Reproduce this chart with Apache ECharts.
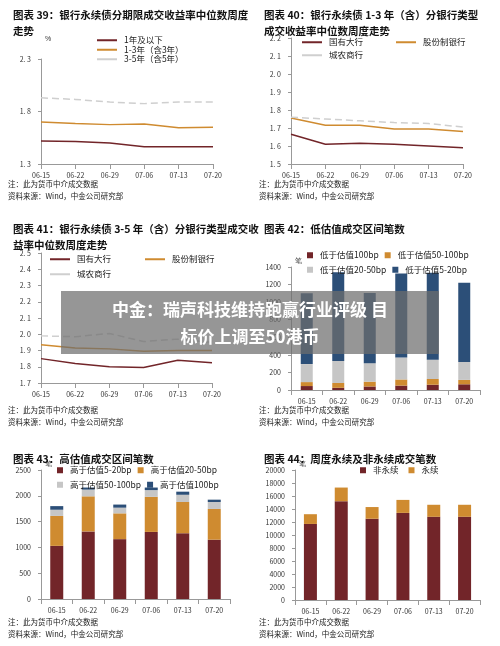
<!DOCTYPE html>
<html lang="zh-CN">
<head>
<meta charset="UTF-8">
<title>银行永续债成交</title>
<script src="https://cdn.jsdelivr.net/npm/echarts@6/dist/echarts.min.js"></script>
<style>
  html, body { margin: 0; padding: 0; background: #fff; }
  #chart { width: 500px; height: 646px; }
</style>
</head>
<body>
<div id="chart"></div>
<script>
// 数据
const weeks = ['06-15', '06-22', '06-29', '07-06', '07-13', '07-20'];
// 图表39
const term1 = [1.52, 1.515, 1.50, 1.465, 1.465, 1.465];
const term13 = [1.70, 1.685, 1.675, 1.68, 1.645, 1.65];
const term35 = [1.93, 1.915, 1.89, 1.875, 1.89, 1.89];
// 图表40
const big13 = [1.665, 1.61, 1.615, 1.61, 1.60, 1.59];
const joint13 = [1.755, 1.715, 1.715, 1.695, 1.695, 1.68];
const city13 = [1.76, 1.75, 1.74, 1.73, 1.725, 1.705];
// 图表41
const big35 = [1.85, 1.82, 1.80, 1.795, 1.84, 1.825];
const joint35 = [1.935, 1.915, 1.91, 1.895, 1.90, 1.90];
const city35 = [1.99, 1.985, 2.005, 1.955, 1.97, 1.95];
// 图表42 低估值
const low100 = [45, 25, 40, 50, 60, 65];
const low50 = [45, 55, 55, 70, 65, 50];
const low20 = [205, 250, 210, 250, 220, 205];
const low5 = [805, 1010, 800, 955, 990, 900];
// 图表43 高估值
const high5 = [1030, 1310, 1160, 1300, 1275, 1150];
const high20 = [580, 680, 500, 680, 605, 595];
const high50 = [120, 130, 110, 130, 140, 135];
const high100 = [70, 40, 60, 50, 60, 45];
// 图表44
const nonPerp = [11700, 15200, 12500, 13400, 12800, 12800];
const perp = [1500, 2100, 1800, 2000, 1850, 1850];

const RED = '#722529', ORANGE = '#cf8b30', GRAY = '#c6c6c6', NAVY = '#2c4f78';
const FONT = '"Noto Sans CJK SC", sans-serif';

const chart = echarts.init(document.getElementById('chart'));

const grids = [
  {left: 41, right: 287, top: 59, bottom: 482},
  {left: 291, right: 37, top: 38, bottom: 482},
  {left: 41, right: 288, top: 253, bottom: 263},
  {left: 291, right: 20, top: 267, bottom: 256},
  {left: 41, right: 270, top: 470, bottom: 47},
  {left: 295, right: 20, top: 470, bottom: 46}
];

const axisLine = {show: true, lineStyle: {color: '#999', width: 1}};
const xAxes = grids.map((g, i) => ({
  type: 'category', gridIndex: i, data: weeks, boundaryGap: i >= 3,
  axisLine: axisLine, axisTick: {show: true, alignWithLabel: i < 3, lineStyle: {color: '#999'}},
  axisLabel: {fontSize: 7, color: '#333', fontFamily: FONT, interval: 0}
}));
const yCfg = [
  {min: 1.3, max: 2.3, interval: 0.5, name: '%', dec: 1},
  {min: 1.5, max: 2.2, interval: 0.1, name: '%', dec: 1},
  {min: 1.7, max: 2.5, interval: 0.1, name: '%', dec: 1},
  {min: 0, max: 1400, interval: 200, name: '笔', dec: 0},
  {min: 0, max: 2500, interval: 500, name: '笔', dec: 0},
  {min: 0, max: 20000, interval: 2000, name: '笔', dec: 0}
];
const yAxes = yCfg.map((c, i) => ({
  type: 'value', gridIndex: i, min: c.min, max: c.max, interval: c.interval,
  name: c.name, nameGap: i === 0 ? 16 : 2,
  nameTextStyle: {fontSize: 7, color: '#333', align: 'left', padding: [0, 0, 0, 4]},
  axisLine: axisLine, axisTick: {show: true, length: 3, lineStyle: {color: '#999'}},
  splitLine: {show: false},
  axisLabel: {fontSize: 7, color: '#333', fontFamily: FONT, margin: 10,
    formatter: v => c.dec ? v.toFixed(1).replace('.', '. ') : String(v)}
}));

function line(name, data, idx, color, dashed) {
  return {
    name: name, type: 'line', xAxisIndex: idx, yAxisIndex: idx, data: data,
    symbol: 'none', lineStyle: {color: color, width: 1.5, type: dashed ? [7, 4] : 'solid'},
    itemStyle: {color: color}
  };
}
function bar(name, data, idx, color, stack) {
  return {
    name: name, type: 'bar', stack: stack, xAxisIndex: idx, yAxisIndex: idx, data: data,
    barWidth: idx === 3 ? 12 : 13, itemStyle: {color: color}
  };
}

const series = [
  line('1年及以下', term1, 0, RED),
  line('1-3年（含3年）', term13, 0, ORANGE),
  line('3-5年（含5年）', term35, 0, '#cfcfcf', true),
  line('国有大行', big13, 1, RED),
  line('股份制银行', joint13, 1, ORANGE),
  line('城农商行', city13, 1, '#cfcfcf', true),
  line('国有大行', big35, 2, RED),
  line('股份制银行', joint35, 2, ORANGE),
  line('城农商行', city35, 2, '#cfcfcf', true),
  bar('低于估值100bp', low100, 3, RED, 'low'),
  bar('低于估值50-100bp', low50, 3, ORANGE, 'low'),
  bar('低于估值20-50bp', low20, 3, GRAY, 'low'),
  bar('低于估值5-20bp', low5, 3, NAVY, 'low'),
  bar('高于估值5-20bp', high5, 4, RED, 'high'),
  bar('高于估值20-50bp', high20, 4, ORANGE, 'high'),
  bar('高于估值50-100bp', high50, 4, GRAY, 'high'),
  bar('高于估值100bp', high100, 4, NAVY, 'high'),
  bar('非永续', nonPerp, 5, RED, 'perp'),
  bar('永续', perp, 5, ORANGE, 'perp')
];

const lineLeg = {itemWidth: 20, itemHeight: 6, icon: 'path://M0,0H20V2H0Z'};
const sqLeg = {itemWidth: 6, itemHeight: 6, icon: 'rect'};
function leg(o, base) {
  return Object.assign({selectedMode: false, itemGap: 1, padding: 0,
    textStyle: {fontSize: 8.5, color: '#222', fontFamily: FONT, padding: [0, 0, 0, 2]}}, base, o);
}
const legends = [
  leg({left: 97, top: 36, orient: 'vertical', data: ['1年及以下', '1-3年（含3年）', '3-5年（含5年）']}, lineLeg),
  leg({left: 302, top: 38, data: ['国有大行']}, lineLeg),
  leg({left: 396, top: 38, data: ['股份制银行']}, lineLeg),
  leg({left: 302, top: 51, data: ['城农商行']}, lineLeg),
  leg({left: 50, top: 255, data: ['国有大行']}, lineLeg),
  leg({left: 145, top: 255, data: ['股份制银行']}, lineLeg),
  leg({left: 50, top: 270, data: ['城农商行']}, lineLeg),
  leg({left: 307, top: 251, width: 190, itemGap: 6, data: ['低于估值100bp', '低于估值50-100bp', '低于估值20-50bp', '低于估值5-20bp']}, sqLeg),
  leg({left: 57, top: 466, width: 190, itemGap: 6, data: ['高于估值5-20bp', '高于估值20-50bp', '高于估值50-100bp', '高于估值100bp']}, sqLeg),
  leg({left: 360, top: 466, itemGap: 10, data: ['非永续', '永续']}, sqLeg)
];

const titleStyle = {fontSize: 10.5, fontWeight: 'bold', color: '#111', fontFamily: FONT, lineHeight: 16};
const titles = [
  {text: '图表 39：银行永续债分期限成交收益率中位数周度\n走势', left: 8, top: 2},
  {text: '图表 40：银行永续债 1-3 年（含）分银行类型\n成交收益率中位数周度走势', left: 259, top: 2},
  {text: '图表 41：银行永续债 3-5 年（含）分银行类型成交收\n益率中位数周度走势', left: 8, top: 216},
  {text: '图表 42：低估值成交区间笔数', left: 259, top: 216},
  {text: '图表 43：高估值成交区间笔数', left: 8, top: 446},
  {text: '图表 44：周度永续及非永续成交笔数', left: 259, top: 446}
].map(t => Object.assign(t, {textStyle: titleStyle}));

function note(x, y) {
  return {type: 'text', left: x, top: y,
    style: {text: '注：此为货币中介成交数据\n资料来源：Wind，中金公司研究部', fontSize: 7.5, lineHeight: 12, fill: '#222', fontFamily: FONT}};
}

chart.setOption({
  animation: false,
  title: titles,
  grid: grids,
  xAxis: xAxes,
  yAxis: yAxes,
  legend: legends,
  series: series,
  graphic: [
    note(8, 178), note(259, 178), note(8, 404), note(259, 404), note(8, 616), note(259, 616),
    {type: 'rect', shape: {x: 61, y: 291, width: 378, height: 63},
      style: {fill: 'rgba(110,110,110,0.72)'}, z: 100},
    {type: 'text', x: 250, y: 296, z: 101,
      style: {text: '中金：瑞声科技维持跑赢行业评级 目\n标价上调至50港币', fontSize: 17, fontWeight: 'bold',
        lineHeight: 27, fill: '#fff', align: 'center', verticalAlign: 'top', fontFamily: FONT}}
  ]
});
</script>
</body>
</html>
